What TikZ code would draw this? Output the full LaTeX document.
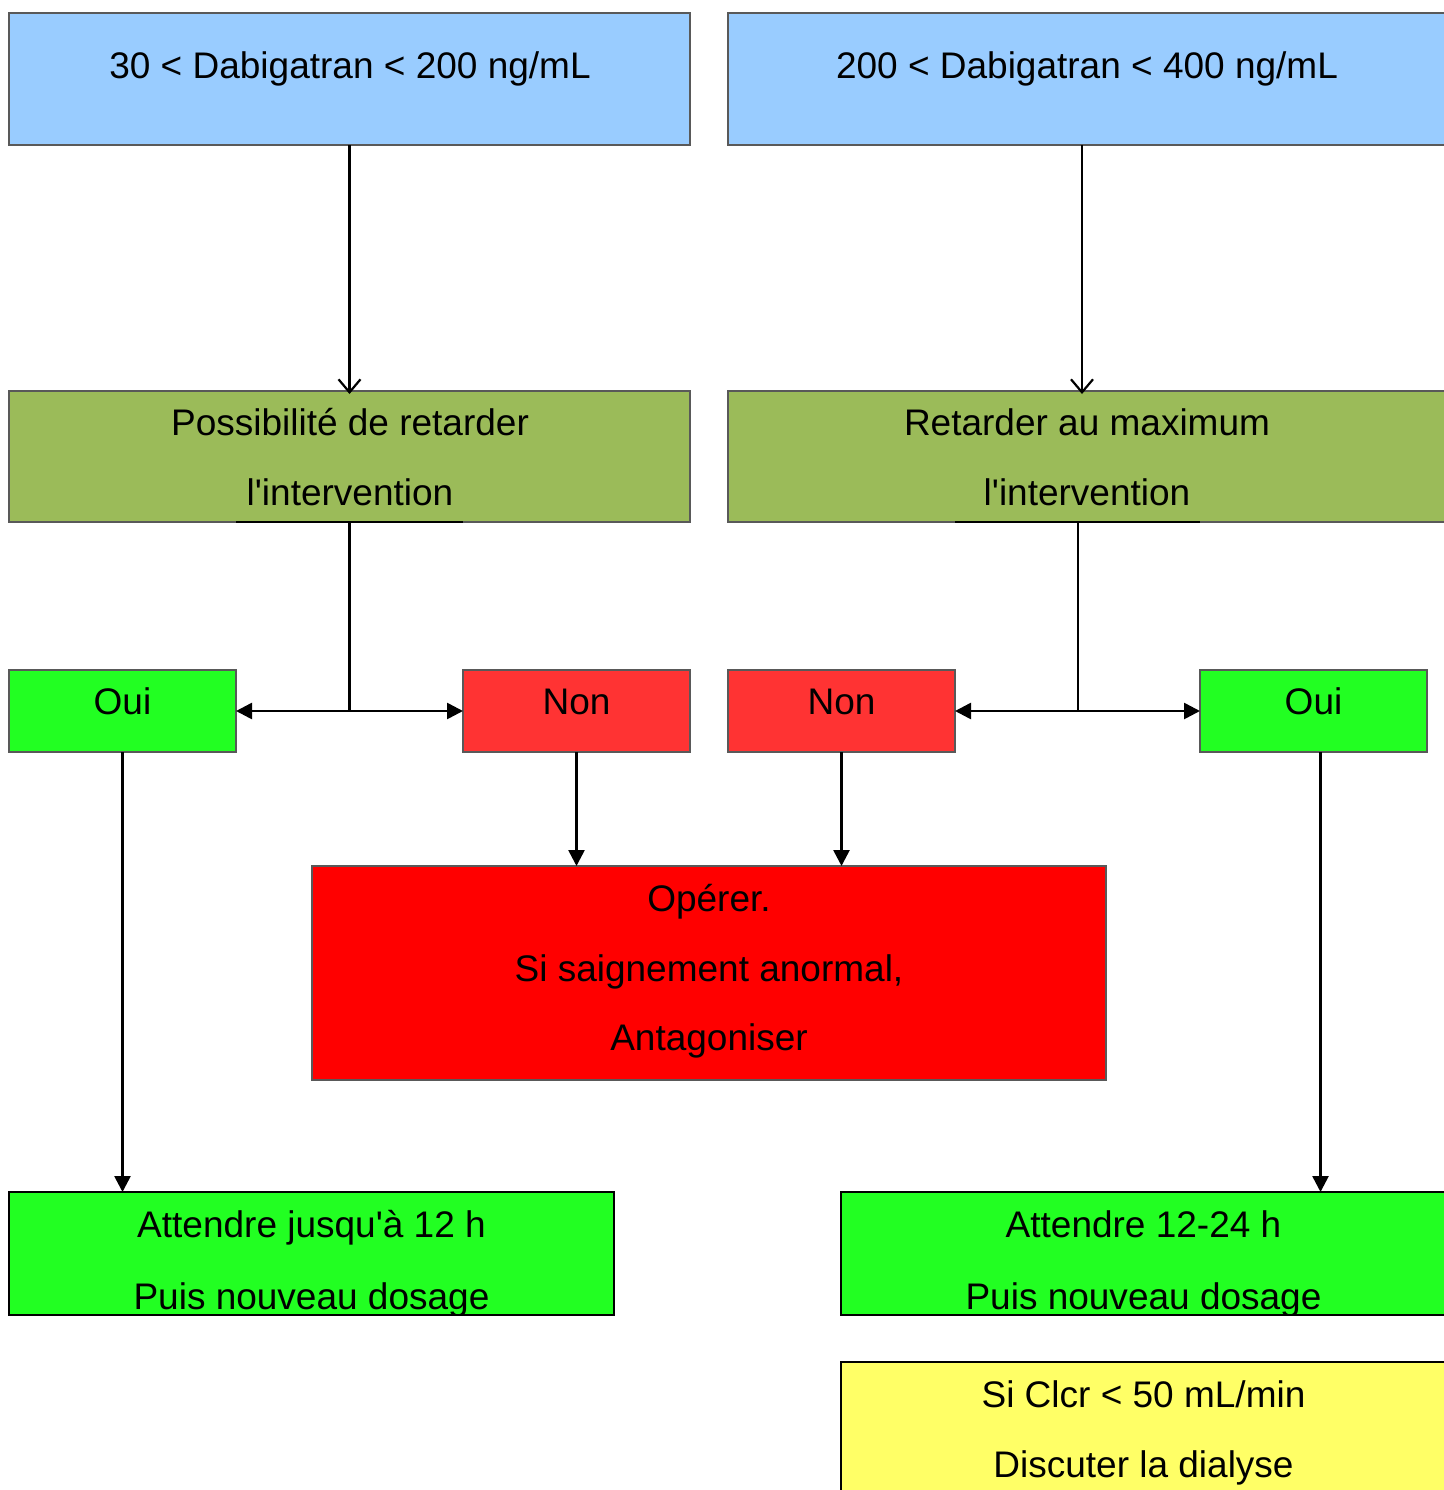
\documentclass[tikz,border=0pt]{standalone}
\usepackage{fontspec}
\setmainfont{Liberation Sans}
\usetikzlibrary{arrows.meta}
\definecolor{cblue}{HTML}{99CCFF}
\definecolor{colive}{HTML}{9BBB59}
\definecolor{cgreen}{HTML}{22FF22}
\definecolor{cnon}{HTML}{FF3333}
\definecolor{cred}{HTML}{FF0000}
\definecolor{cyellow}{HTML}{FFFF66}
\begin{document}
\begin{tikzpicture}[x=1pt,y=-1pt,
 box/.style={draw=black!65, line width=1.2pt, inner sep=0pt, outer sep=0pt, anchor=north west},
 txt/.style={font=\fontsize{37}{70}\selectfont, anchor=base, inner sep=0pt},
 conn/.style={line width=2.6pt, black},
 openarr/.style={conn, -{Straight Barb[length=13pt,width=22pt,line width=2.2pt]}},
 fillarr/.style={conn, -{Triangle[length=16pt,width=16pt]}}]
\useasboundingbox (0,0) rectangle (1443,1490);
% boxes
\node[box, fill=cblue, minimum width=681pt, minimum height=132pt] (b1) at (9,13) {};
\node[box, fill=cblue, minimum width=718pt, minimum height=132pt] (b2) at (728,13) {};
\node[box, fill=colive, minimum width=681pt, minimum height=131pt] (g1) at (9,391) {};
\node[box, fill=colive, minimum width=718pt, minimum height=131pt] (g2) at (728,391) {};
\node[box, fill=cgreen, minimum width=227pt, minimum height=82pt] (oui1) at (9,670) {};
\node[box, fill=cnon, minimum width=227pt, minimum height=82pt] (non1) at (463,670) {};
\node[box, fill=cnon, minimum width=227pt, minimum height=82pt] (non2) at (728,670) {};
\node[box, fill=cgreen, minimum width=227pt, minimum height=82pt] (oui2) at (1200,670) {};
\node[box, fill=cred, minimum width=794pt, minimum height=214pt] (op) at (312,866) {};
\node[box, fill=cgreen, draw=black, minimum width=605pt, minimum height=123pt] (w1) at (9,1192) {};
\node[box, fill=cgreen, draw=black, minimum width=605pt, minimum height=123pt] (w2) at (841,1192) {};
\node[box, fill=cyellow, draw=black, minimum width=605pt, minimum height=140pt] (y1) at (841,1362) {};
% texts
\node[txt] (b1t) at (350,79) {30 < Dabigatran < 200 ng/mL};
\node[txt] (b2t) at (1087,79) {200 < Dabigatran < 400 ng/mL};
\node[txt] (g1a) at (350,435) {Possibilité de retarder};
\node[txt] (g1b) at (350,505) {l\textquotesingle intervention};
\node[txt] (g2a) at (1087,435) {Retarder au maximum};
\node[txt] (g2b) at (1087,505) {l\textquotesingle intervention};
\node[txt] (oui1t) at (122.5,714) {Oui};
\node[txt] (non1t) at (576.5,714) {Non};
\node[txt] (non2t) at (841.5,714) {Non};
\node[txt] (oui2t) at (1313.5,714) {Oui};
\node[txt] (opa) at (709,911) {Opérer.};
\node[txt] (opb) at (709,981) {Si saignement anormal,};
\node[txt] (opc) at (709,1050) {Antagoniser};
\begin{scope}
\clip (w1.north west) rectangle (w1.south east);
\node[txt] (w1a) at (311.5,1237) {Attendre jusqu\textquotesingle à 12 h};
\node[txt] (w1b) at (311.5,1309) {Puis nouveau dosage};
\end{scope}
\begin{scope}
\clip (w2.north west) rectangle (w2.south east);
\node[txt] (w2a) at (1143.5,1237) {Attendre 12-24 h};
\node[txt] (w2b) at (1143.5,1309) {Puis nouveau dosage};
\end{scope}
\node[txt] (y1a) at (1143.5,1407) {Si Clcr < 50 mL/min};
\node[txt] (y1b) at (1143.5,1477) {Discuter la dialyse};
% connectors
\draw[openarr] (b1.south) -- ([yshift=-3pt]g1.north);
\draw[openarr] ([xshift=-5pt]b2.south) -- ([xshift=-5pt,yshift=-3pt]g2.north);
\coordinate (j1) at (g1.south |- oui1.east);
\draw[conn] (g1.south) -- (j1);
\draw[conn] (oui1.east |- g1.south) -- (non1.west |- g1.south);
\draw[fillarr] (j1) -- (oui1.east);
\draw[fillarr] (j1) -- (non1.west);
\coordinate (s2) at ([xshift=-9pt]g2.south);
\coordinate (j2) at (s2 |- non2.east);
\draw[conn] (s2) -- (j2);
\draw[conn] (non2.east |- g2.south) -- (oui2.west |- g2.south);
\draw[fillarr] (j2) -- (non2.east);
\draw[fillarr] (j2) -- (oui2.west);
\draw[fillarr] (non1.south) -- (non1.south |- op.north);
\draw[fillarr] (non2.south) -- (non2.south |- op.north);
\draw[fillarr] (oui1.south) -- (oui1.south |- w1.north);
\coordinate (o2) at ([xshift=7pt]oui2.south);
\draw[fillarr] (o2) -- (o2 |- w2.north);
\end{tikzpicture}
\end{document}
